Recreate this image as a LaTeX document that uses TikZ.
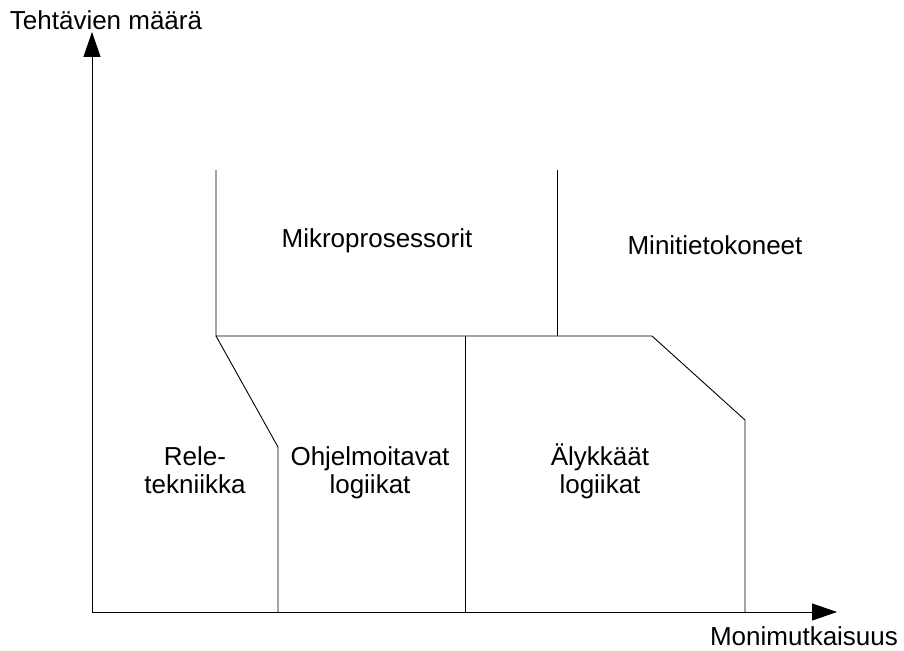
\documentclass[tikz,border=0pt]{standalone}
\usepackage{fontspec}
\setmainfont{Liberation Sans}
\usetikzlibrary{arrows.meta}
\begin{document}
\begin{tikzpicture}[x=1pt,y=-1pt,
  ln/.style={line width=0.9pt},
  axis/.style={line width=0.9pt,-{Triangle[length=25pt,width=17pt]}},
  lbl/.style={font=\fontsize{26}{28}\selectfont,align=center,inner sep=0pt,anchor=base}]
\useasboundingbox (0,0) rectangle (904,650);
\coordinate (O) at (92,612);
\coordinate (Ytip) at (92,32);
\coordinate (Xtip) at (837,612);
\draw[axis] (O) -- (Ytip);
\draw[axis] (O) -- (Xtip);
\coordinate (a1) at (216,170);
\coordinate (a2) at (216,336);
\coordinate (b1) at (557,170);
\coordinate (b2) at (557,336);
\coordinate (c) at (652,336);
\coordinate (d) at (745,420);
\coordinate (d2) at (745,612);
\coordinate (e) at (278,447);
\coordinate (e2) at (278,612);
\coordinate (f1) at (465,336);
\coordinate (f2) at (465,612);
\draw[ln] (a1) -- (a2) -- (c) -- (d) -- (d2);
\draw[ln] (b1) -- (b2);
\draw[ln] (a2) -- (e) -- (e2);
\draw[ln] (f1) -- (f2);
\node[lbl] (ylab) at (106,30) {Tehtävien määrä};
\node[lbl] (xlab) at (804,645) {Monimutkaisuus};
\node[lbl] (mikro) at (377,247) {Mikroprosessorit};
\node[lbl] (mini) at (715,254) {Minitietokoneet};
\node[lbl] (rele) at (195,493) {Rele-\\tekniikka};
\node[lbl] (ohj) at (370,493) {Ohjelmoitavat\\logiikat};
\node[lbl] (aly) at (600,493) {Älykkäät\\logiikat};
\end{tikzpicture}
\end{document}
